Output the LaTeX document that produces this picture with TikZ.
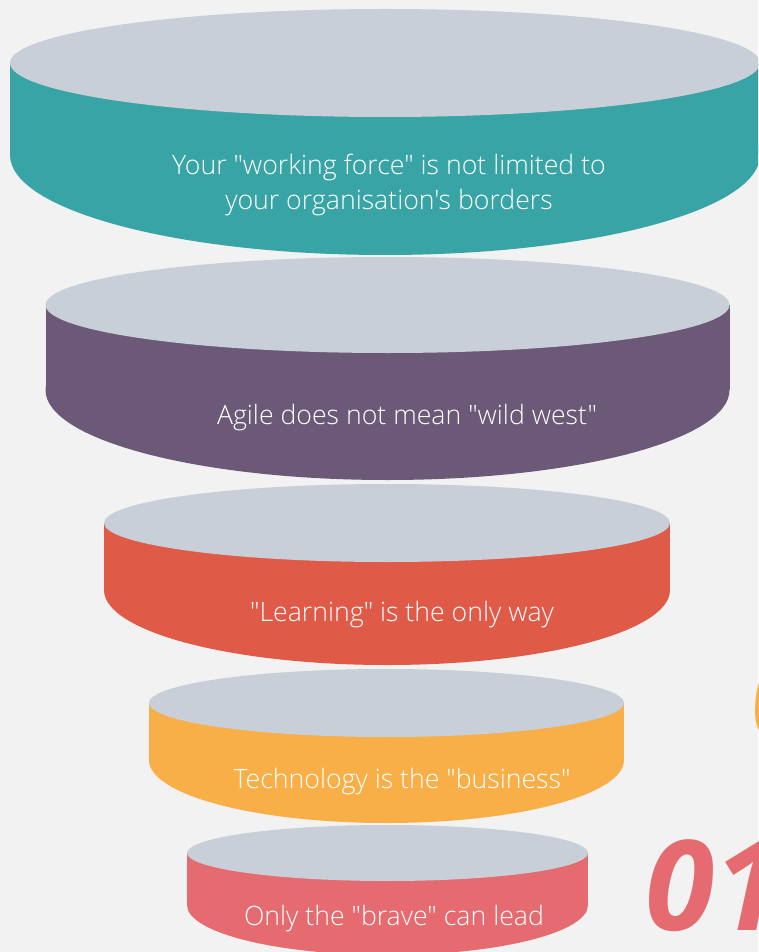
\documentclass[tikz,border=0pt]{standalone}
\usepackage{fontspec}
\setmainfont{Open Sans}[Ligatures=TeXOff, UprightFont=* Light]
\newfontfamily\numfont{Open Sans}[Ligatures=TeXOff]
\usepackage{tikz}

\definecolor{bgcol}{HTML}{F1F2F1}
\definecolor{lidcol}{HTML}{C8CFD8}
\definecolor{tealcol}{HTML}{38A4A5}
\definecolor{plumcol}{HTML}{6C5877}
\definecolor{redcol}{HTML}{E05A48}
\definecolor{ambercol}{HTML}{F8AF48}
\definecolor{rosecol}{HTML}{E56B70}

\tikzset{
	lbl/.style={text=white, font=\fontsize{20}{27}\selectfont, align=center, anchor=base},
	bignum/.style={font=\numfont\fontsize{94}{94}\bfseries\itshape, anchor=base west, inner sep=0pt}
}

\begin{document}
\begin{tikzpicture}[x=0.75pt, y=-0.75pt]
	\useasboundingbox (0,0) rectangle (758,952);
	\fill[bgcol] (0,0) rectangle (758,952);
	\clip (0,0) rectangle (758,952);

	% tiers: centre x / lid y / half width / lid depth / side bottom / bottom depth / colour
	\foreach \cx/\ty/\rx/\ra/\by/\rb/\col in {
		385/63/375/54/155/100/tealcol,
		387.5/305/342/48/390/90/plumcol,
		387/523/283/39/590/75/redcol,
		386.5/703/237.5/34/760/63/ambercol,
		387.5/853/200.5/28/905/50/rosecol}{
		\fill[\col] (\cx-\rx,\ty) rectangle (\cx+\rx,\by);
		\fill[\col] (\cx,\by) ellipse[x radius=\rx, y radius=\rb];
		\fill[lidcol] (\cx,\ty) ellipse[x radius=\rx, y radius=\ra];
	}

	\node[bignum, text=ambercol] (n2) at (751,740) {0};
	\node[bignum, text=rosecol] (n1) at (645,930) {01};

	\node[lbl] (t1) at (389,210) {Your "working force" is not limited to\\your organisation's borders};
	\node[lbl] (t2) at (407,424) {Agile does not mean "wild west"};
	\node[lbl] (t3) at (402,621) {"Learning" is the only way};
	\node[lbl] (t4) at (402,788) {Technology is the "business"};
	\node[lbl] (t5) at (394,925) {Only the "brave" can lead};
\end{tikzpicture}
\end{document}
